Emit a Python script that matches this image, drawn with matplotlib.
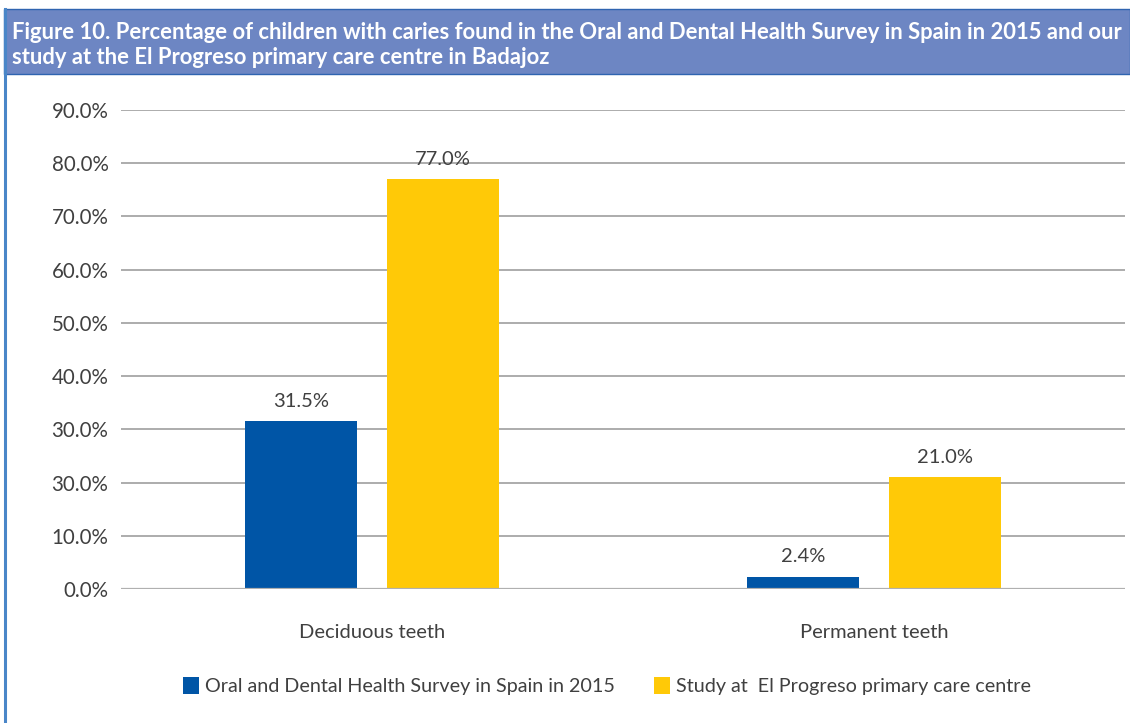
import numpy as np
import matplotlib.pyplot as plt
from matplotlib.patches import Rectangle
from matplotlib.lines import Line2D

categories = ['Deciduous teeth', 'Permanent teeth']
survey_2015 = [31.5, 2.4]
progreso = [77.0, 21.0]
series_names = ['Oral and Dental Health Survey in Spain in 2015',
                'Study at  El Progreso primary care centre']
ytick_vals = [0, 10, 20, 30, 40, 50, 60, 70, 80, 90]
ytick_labels = ['0.0%', '10.0%', '30.0%', '30.0%', '40.0%', '50.0%',
                '60.0%', '70.0%', '80.0%', '90.0%']
title = ('Figure 10. Percentage of children with caries found in the Oral and Dental Health Survey in Spain in 2015 and our\n'
         'study at the El Progreso primary care centre in Badajoz')

blue = '#0055A6'
yellow = '#FFC907'
txt = '#404040'
plt.rcParams['font.family'] = ['Lato', 'DejaVu Sans']

W, H = 1130, 723
fig = plt.figure(figsize=(W / 100, H / 100), dpi=100)

# title band and frame
fig.patches.append(Rectangle((4 / W, 1 - 74 / H), 1 - 4 / W, 65 / H, transform=fig.transFigure,
                             facecolor='#6D86C3', edgecolor='#2F64B0', linewidth=1))
fig.lines.append(Line2D([5 / W, 5 / W], [0, 1 - 9 / H], transform=fig.transFigure,
                        color='#4A86C8', linewidth=2.2))
fig.text(12 / W, 1 - 45 / H, title, color='white', fontsize=15.8, fontweight='bold',
         va='center', ha='left', linespacing=1.25)

ax = fig.add_axes([121 / W, 1 - 589.3 / H, 1004 / W, (589.3 - 109.6) / H])
x = np.arange(len(categories))
bw = 0.223
off = 0.1414
b1 = ax.bar(x - off, survey_2015, bw, color=blue, label=series_names[0], zorder=3)
b2 = ax.bar(x + off, progreso, bw, color=yellow, label=series_names[1], zorder=3)
for bars in (b1, b2):
    for r in bars:
        v = r.get_height()
        ax.annotate(f'{v:.1f}%', (r.get_x() + r.get_width() / 2, v), xytext=(0, 8),
                    textcoords='offset points', ha='center', va='bottom',
                    fontsize=14.5, color=txt)

ax.set_xlim(-0.5, 1.5)
ax.set_ylim(0, 90)
ax.set_yticks(ytick_vals)
ax.set_yticklabels(ytick_labels)
ax.set_xticks(x)
ax.set_xticklabels(categories)
ax.tick_params(axis='y', length=0, pad=9, labelsize=14.8, labelcolor=txt)
ax.tick_params(axis='x', length=0, pad=25, labelsize=14.5, labelcolor=txt)
ax.grid(axis='y', color='#A6A6A6', linewidth=1.3, zorder=0)
for s in ax.spines.values():
    s.set_visible(False)
ax.axhline(0, color='#B0B0B0', linewidth=1.6, zorder=4)

fig.legend(handles=[b1, b2], loc='center', bbox_to_anchor=(607 / W, 1 - 686 / H), ncol=2,
           frameon=False, fontsize=14.2, labelcolor=txt, handlelength=0.8, handleheight=1.0,
           handletextpad=0.3, columnspacing=2.0)

fig.savefig('out.png', dpi=100)
